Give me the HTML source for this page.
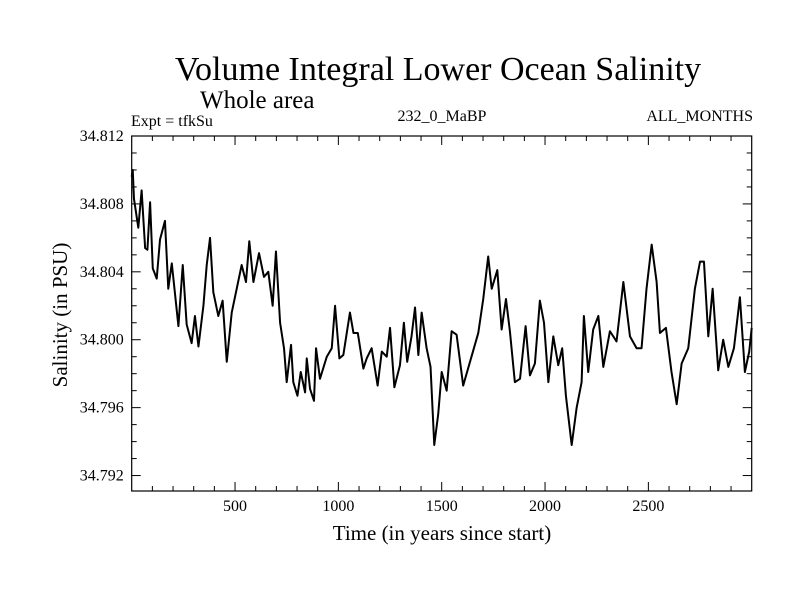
<!DOCTYPE html>
<html><head><meta charset="utf-8"><style>
body{margin:0;background:#fff}
svg text{font-family:"Liberation Serif",serif;fill:#000}
</style></head><body>
<svg id="chart" width="800" height="600" viewBox="0 0 800 600">
<text x="438" y="80" font-size="34" text-anchor="middle">Volume Integral Lower Ocean Salinity</text>
<text x="200" y="108" font-size="25">Whole area</text>
<text x="131" y="126" font-size="16">Expt = tfkSu</text>
<text x="442" y="121" font-size="16" text-anchor="middle">232_0_MaBP</text>
<text x="753" y="121" font-size="16" text-anchor="end">ALL_MONTHS</text>
<text transform="translate(67,315) rotate(-90)" font-size="21" text-anchor="middle">Salinity (in PSU)</text>
<text x="442" y="540" font-size="21" text-anchor="middle">Time (in years since start)</text>
<g id="axes"></g>
<path id="line" fill="none" stroke="#000" stroke-width="2" stroke-linejoin="round"></path>
<rect x="131.7" y="136" width="620" height="355" fill="none" stroke="#000" stroke-width="1.2"></rect>
</svg>
<script>
const years=[0,5,11,32,48,65,76,89,102,121,137,161,177,194,226,247,266,290,306,323,347,363,379,395,419,440,460,484,508,532,553,569,589,616,640,661,682,698,718,737,750,771,782,802,818,839,847,863,882,892,911,944,968,984,1005,1024,1056,1073,1094,1121,1137,1161,1190,1210,1234,1250,1271,1298,1317,1333,1354,1371,1387,1403,1427,1446,1464,1483,1500,1524,1548,1572,1604,1637,1677,1701,1725,1742,1769,1790,1811,1830,1854,1879,1906,1927,1951,1975,1995,2016,2040,2064,2083,2101,2129,2153,2177,2188,2209,2233,2258,2282,2314,2346,2379,2411,2443,2467,2491,2516,2540,2556,2585,2612,2637,2661,2693,2725,2750,2769,2790,2811,2838,2862,2887,2914,2943,2967,2988,3000];
const salinity=[34.8096,34.8100,34.8083,34.8066,34.8088,34.8054,34.8053,34.8081,34.8042,34.8036,34.8059,34.8070,34.8030,34.8045,34.8008,34.8044,34.8009,34.7998,34.8014,34.7996,34.8020,34.8044,34.8060,34.8028,34.8014,34.8023,34.7987,34.8016,34.8030,34.8044,34.8034,34.8058,34.8034,34.8051,34.8037,34.8040,34.8020,34.8052,34.8010,34.7995,34.7975,34.7997,34.7975,34.7967,34.7981,34.7969,34.7989,34.7971,34.7964,34.7995,34.7977,34.7990,34.7995,34.8020,34.7989,34.7991,34.8016,34.8004,34.8004,34.7983,34.7989,34.7995,34.7973,34.7993,34.7990,34.8007,34.7972,34.7985,34.8010,34.7987,34.8002,34.8019,34.7991,34.8016,34.7995,34.7984,34.7938,34.7956,34.7981,34.7970,34.8005,34.8003,34.7973,34.7987,34.8004,34.8024,34.8049,34.8030,34.8041,34.8006,34.8024,34.8005,34.7975,34.7977,34.8008,34.7979,34.7986,34.8023,34.8010,34.7975,34.8002,34.7985,34.7995,34.7967,34.7938,34.7960,34.7975,34.8014,34.7981,34.8006,34.8014,34.7984,34.8005,34.7999,34.8034,34.8002,34.7995,34.7995,34.8030,34.8056,34.8034,34.8004,34.8007,34.7981,34.7962,34.7986,34.7995,34.8030,34.8046,34.8046,34.8002,34.8030,34.7982,34.8000,34.7984,34.7995,34.8025,34.7981,34.7993,34.8007];
const xTicks=[500,1000,1500,2000,2500];
const yTicks=[34.792,34.796,34.800,34.804,34.808,34.812];
const L=131.7,R=751.7,T=136,B=491;
const X0=0,X1=3000,Y0=34.79109,Y1=34.812;
const sx=v=>L+(v-X0)/(X1-X0)*(R-L);
const sy=v=>B-(v-Y0)/(Y1-Y0)*(B-T);
const NS="http://www.w3.org/2000/svg";
const g=document.getElementById('axes');
function ln(x1,y1,x2,y2){const l=document.createElementNS(NS,'line');l.setAttribute('x1',x1);l.setAttribute('y1',y1);l.setAttribute('x2',x2);l.setAttribute('y2',y2);l.setAttribute('stroke','#000');l.setAttribute('stroke-width','1');


g.appendChild(l);}
for(let v=100;v<3000;v+=100){const x=sx(v),len=(v%500===0)?9:5;ln(x,B,x,B-len);ln(x,T,x,T+len);}
for(let k=0;k<=20;k++){const v=34.792+k*0.001;if(v>Y1+1e-9)break;const y=sy(v),len=(k%4===0)?9:5;ln(L,y,L+len,y);ln(R,y,R-len,y);}
xTicks.forEach(v=>{const t=document.createElementNS(NS,'text');t.setAttribute('x',sx(v));t.setAttribute('y',B+20);t.setAttribute('font-size','16');t.setAttribute('text-anchor','middle');t.textContent=v;


g.appendChild(t);});
yTicks.forEach(v=>{const t=document.createElementNS(NS,'text');t.setAttribute('x',L-8);t.setAttribute('y',sy(v)+5);t.setAttribute('font-size','16');t.setAttribute('text-anchor','end');t.textContent=v.toFixed(3);


g.appendChild(t);});
document.getElementById('line').setAttribute('d',years.map((x,i)=>(i?'L':'M')+sx(x).toFixed(2)+','+sy(salinity[i]).toFixed(2)).join(''));
</script>
</body></html>
